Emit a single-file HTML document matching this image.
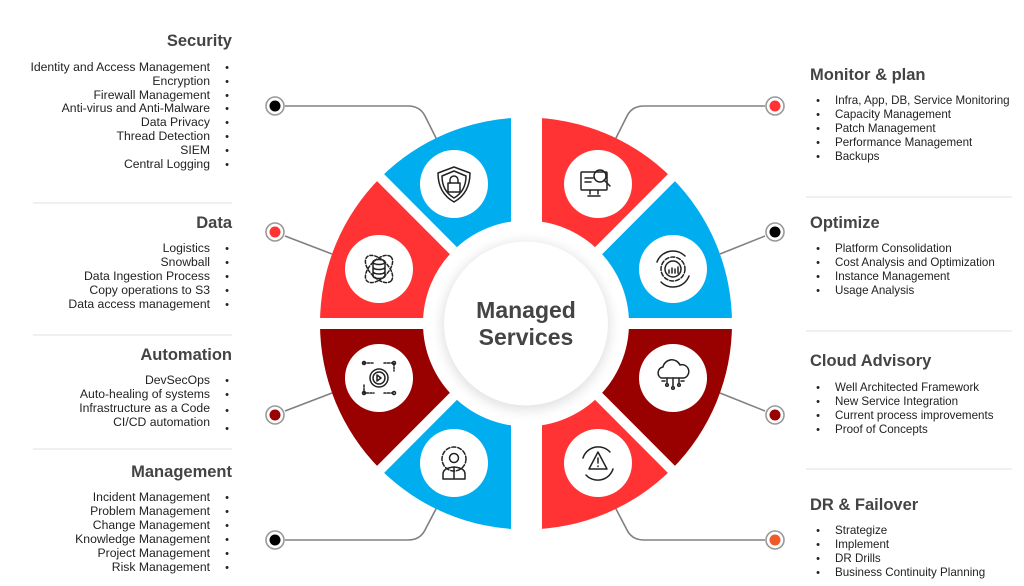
<!DOCTYPE html>
<html><head><meta charset="utf-8"><style>
html,body{margin:0;padding:0;background:#fff;}
svg{display:block;}
.t{font-family:"Liberation Sans",sans-serif;font-weight:bold;font-size:16.5px;fill:#444;}
.i{font-family:"Liberation Sans",sans-serif;font-size:12.2px;fill:#222;}
.r{font-family:"Liberation Sans",sans-serif;font-size:11.6px;fill:#222;}
.b{font-family:"Liberation Sans",sans-serif;font-size:11px;fill:#222;}
.ic{fill:none;stroke:#222;stroke-width:1.5;stroke-linecap:round;stroke-linejoin:round;}
</style></head><body>
<svg width="1024" height="586" viewBox="0 0 1024 586" xmlns="http://www.w3.org/2000/svg">
<defs>
<filter id="sh" x="-30%" y="-30%" width="160%" height="160%"><feGaussianBlur stdDeviation="6"/></filter>
</defs>

<g fill="none" stroke="#808080" stroke-width="1.6">
<path d="M285 106 H408 Q420 106 425 116 L437 140"/>
<path d="M765 106 H644 Q632 106 627 116 L615 140"/>
<path d="M285 236 L332 254"/>
<path d="M765 236 L720 254"/>
<path d="M285 411 L332 393"/>
<path d="M765 411 L720 393"/>
<path d="M285 540 H408 Q420 540 425 530 L437 507"/>
<path d="M765 540 H644 Q632 540 627 530 L615 507"/>
</g>
<g stroke="#999" stroke-width="1.6" fill="#fff">
<circle cx="275" cy="106" r="9"/><circle cx="275" cy="232" r="9"/><circle cx="275" cy="415" r="9"/><circle cx="275" cy="540" r="9"/>
<circle cx="775" cy="106" r="9"/><circle cx="775" cy="232" r="9"/><circle cx="775" cy="415" r="9"/><circle cx="775" cy="540" r="9"/>
</g>
<circle cx="275" cy="106" r="5.5" fill="#000"/><circle cx="275" cy="232" r="5.5" fill="#ff3333"/><circle cx="275" cy="415" r="5.5" fill="#990000"/><circle cx="275" cy="540" r="5.5" fill="#000"/>
<circle cx="775" cy="106" r="5.5" fill="#ff3333"/><circle cx="775" cy="232" r="5.5" fill="#000"/><circle cx="775" cy="415" r="5.5" fill="#990000"/><circle cx="775" cy="540" r="5.5" fill="#f05a28"/>

<path d="M526 117.5 A206 206 0 0 1 671.7 177.8 L598.8 250.7 A103 103 0 0 0 526 220.5 Z" fill="#ff3333"/>
<path d="M671.7 177.8 A206 206 0 0 1 732 323.5 L629 323.5 A103 103 0 0 0 598.8 250.7 Z" fill="#00aeef"/>
<path d="M732 323.5 A206 206 0 0 1 671.7 469.2 L598.8 396.3 A103 103 0 0 0 629 323.5 Z" fill="#990000"/>
<path d="M671.7 469.2 A206 206 0 0 1 526 529.5 L526 426.5 A103 103 0 0 0 598.8 396.3 Z" fill="#ff3333"/>
<path d="M526 529.5 A206 206 0 0 1 380.3 469.2 L453.2 396.3 A103 103 0 0 0 526 426.5 Z" fill="#00aeef"/>
<path d="M380.3 469.2 A206 206 0 0 1 320 323.5 L423 323.5 A103 103 0 0 0 453.2 396.3 Z" fill="#990000"/>
<path d="M320 323.5 A206 206 0 0 1 380.3 177.8 L453.2 250.7 A103 103 0 0 0 423 323.5 Z" fill="#ff3333"/>
<path d="M380.3 177.8 A206 206 0 0 1 526 117.5 L526 220.5 A103 103 0 0 0 453.2 250.7 Z" fill="#00aeef"/>
<rect x="511" y="100" width="31" height="450" fill="#fff"/>
<rect x="300" y="318" width="450" height="11" fill="#fff"/>
<g stroke="#fff" stroke-width="10">
<line x1="360" y1="157" x2="692" y2="490"/>
<line x1="692" y1="157" x2="360" y2="490"/>
</g>

<circle cx="526" cy="326" r="84" fill="#000" opacity="0.12" filter="url(#sh)"/>
<circle cx="526" cy="323.5" r="82" fill="#fff"/>
<text x="526" y="318" text-anchor="middle" font-family="Liberation Sans, sans-serif" font-weight="bold" font-size="23" fill="#444">Managed</text>
<text x="526" y="345" text-anchor="middle" font-family="Liberation Sans, sans-serif" font-weight="bold" font-size="23" fill="#444">Services</text>

<g fill="#fff">
<circle cx="454" cy="184" r="34"/><circle cx="379" cy="269" r="34"/><circle cx="379" cy="378" r="34"/><circle cx="454" cy="463" r="34"/>
<circle cx="598" cy="184" r="34"/><circle cx="673" cy="269" r="34"/><circle cx="673" cy="378" r="34"/><circle cx="598" cy="463" r="34"/>
</g>
<g class="ic">
<path d="M454 167 L470 173 Q470 193 454 202 Q438 193 438 173 Z"/><path d="M454 171 L466 176 Q466 191 454 198 Q442 191 442 176 Z"/>
<rect x="448" y="183" width="12" height="9"/><path d="M450 183 v-3 a4 4 0 0 1 8 0 v3"/>
<ellipse cx="379" cy="262" rx="6" ry="2.5"/><path d="M373 262 v14 a6 2.5 0 0 0 12 0 v-14 M373 267 a6 2.5 0 0 0 12 0 M373 271.5 a6 2.5 0 0 0 12 0"/>
<ellipse cx="379" cy="269" rx="17" ry="9" transform="rotate(45 379 269)" stroke-dasharray="3 2"/>
<ellipse cx="379" cy="269" rx="17" ry="9" transform="rotate(-45 379 269)" stroke-dasharray="3 2"/>
<circle cx="379" cy="378" r="9"/><circle cx="379" cy="378" r="6"/><path d="M377 375 l4 3 l-4 3 Z"/>
<path d="M364 363 h10 M384 363 h10 v8 M364 385 v8 h10 M384 393 h10" stroke-dasharray="2 1.5"/>
<circle cx="364" cy="363" r="1.5"/><circle cx="394" cy="363" r="1.5"/><circle cx="364" cy="393" r="1.5"/><circle cx="394" cy="393" r="1.5"/>
<circle cx="454" cy="459" r="12" stroke-dasharray="4 2"/><circle cx="454" cy="458" r="4.5"/><path d="M443 479 v-5 q0 -6 11 -7 q11 1 11 7 v5 Z M454 467 v12"/>
<rect x="581" y="172" width="26" height="18" rx="1"/><path d="M590 190 v4 M598 190 v4 M588 196 h12 M585 178 h8 M585 182 h6"/>
<circle cx="600" cy="176" r="6"/><path d="M604 180 l6 6"/>
<circle cx="673" cy="269" r="12" stroke-dasharray="4 2"/><circle cx="673" cy="269" r="8"/><path d="M669 273 v-3 M672 273 v-5 M675 273 v-4 M678 273 v-6"/>
<path d="M657 262 a17 17 0 0 1 28 -6 M689 276 a17 17 0 0 1 -28 6"/>
<path d="M661 378 a6 6 0 0 1 2 -11 a9 9 0 0 1 17 -2 a6 6 0 0 1 4 13 Z"/><path d="M667 378 v5 M673 378 v8 M679 378 v5 M662 381 h3 M684 381 h-3"/>
<circle cx="667" cy="385" r="1.3"/><circle cx="673" cy="388" r="1.3"/><circle cx="679" cy="385" r="1.3"/>
<path d="M598 452 L607 469 H589 Z"/><path d="M598 458 v5 M598 466 v0.5"/><path d="M583 458 a16 16 0 0 1 27 -6 M613 469 a16 16 0 0 1 -27 6"/>
</g>

<g stroke="#e2e2e2" stroke-width="1">
<line x1="33" y1="203" x2="232" y2="203"/><line x1="33" y1="335" x2="232" y2="335"/><line x1="33" y1="449" x2="232" y2="449"/>
<line x1="806" y1="197" x2="1012" y2="197"/><line x1="806" y1="331" x2="1012" y2="331"/><line x1="806" y1="469" x2="1012" y2="469"/>
</g>

<g text-anchor="end">
<text class="t" x="232" y="46">Security</text>
<text class="i" x="210" y="71">Identity and Access Management</text>
<text class="i" x="210" y="85">Encryption</text>
<text class="i" x="210" y="99">Firewall Management</text>
<text class="i" x="210" y="112">Anti-virus and Anti-Malware</text>
<text class="i" x="210" y="126">Data Privacy</text>
<text class="i" x="210" y="140">Thread Detection</text>
<text class="i" x="210" y="154">SIEM</text>
<text class="i" x="210" y="168">Central Logging</text>
<text class="t" x="232" y="228">Data</text>
<text class="i" x="210" y="252">Logistics</text>
<text class="i" x="210" y="266">Snowball</text>
<text class="i" x="210" y="280">Data Ingestion Process</text>
<text class="i" x="210" y="294">Copy operations to S3</text>
<text class="i" x="210" y="308">Data access management</text>
<text class="t" x="232" y="360">Automation</text>
<text class="i" x="210" y="384">DevSecOps</text>
<text class="i" x="210" y="398">Auto-healing of systems</text>
<text class="i" x="210" y="412">Infrastructure as a Code</text>
<text class="i" x="210" y="426">CI/CD automation</text>
<text class="t" x="232" y="477">Management</text>
<text class="i" x="210" y="501">Incident Management</text>
<text class="i" x="210" y="515">Problem Management</text>
<text class="i" x="210" y="529">Change Management</text>
<text class="i" x="210" y="543">Knowledge Management</text>
<text class="i" x="210" y="557">Project Management</text>
<text class="i" x="210" y="571">Risk Management</text>
</g>
<g text-anchor="middle">
<text class="b" x="227" y="71">•</text><text class="b" x="227" y="85">•</text><text class="b" x="227" y="99">•</text><text class="b" x="227" y="112">•</text><text class="b" x="227" y="126">•</text><text class="b" x="227" y="140">•</text><text class="b" x="227" y="154">•</text><text class="b" x="227" y="168">•</text>
<text class="b" x="227" y="252">•</text><text class="b" x="227" y="266">•</text><text class="b" x="227" y="280">•</text><text class="b" x="227" y="294">•</text><text class="b" x="227" y="308">•</text>
<text class="b" x="227" y="384">•</text><text class="b" x="227" y="398">•</text><text class="b" x="227" y="414">•</text><text class="b" x="227" y="432">•</text>
<text class="b" x="227" y="501">•</text><text class="b" x="227" y="515">•</text><text class="b" x="227" y="529">•</text><text class="b" x="227" y="543">•</text><text class="b" x="227" y="557">•</text><text class="b" x="227" y="571">•</text>
<text class="b" x="818" y="104">•</text><text class="b" x="818" y="118">•</text><text class="b" x="818" y="132">•</text><text class="b" x="818" y="146">•</text><text class="b" x="818" y="160">•</text>
<text class="b" x="818" y="252">•</text><text class="b" x="818" y="266">•</text><text class="b" x="818" y="280">•</text><text class="b" x="818" y="294">•</text>
<text class="b" x="818" y="391">•</text><text class="b" x="818" y="405">•</text><text class="b" x="818" y="419">•</text><text class="b" x="818" y="433">•</text>
<text class="b" x="818" y="534">•</text><text class="b" x="818" y="548">•</text><text class="b" x="818" y="562">•</text><text class="b" x="818" y="576">•</text>
</g>

<text class="t" x="810" y="80">Monitor &amp; plan</text>
<text class="r" x="835" y="104">Infra, App, DB, Service Monitoring</text>
<text class="r" x="835" y="118">Capacity Management</text>
<text class="r" x="835" y="132">Patch Management</text>
<text class="r" x="835" y="146">Performance Management</text>
<text class="r" x="835" y="160">Backups</text>
<text class="t" x="810" y="228">Optimize</text>
<text class="r" x="835" y="252">Platform Consolidation</text>
<text class="r" x="835" y="266">Cost Analysis and Optimization</text>
<text class="r" x="835" y="280">Instance Management</text>
<text class="r" x="835" y="294">Usage Analysis</text>
<text class="t" x="810" y="366">Cloud Advisory</text>
<text class="r" x="835" y="391">Well Architected Framework</text>
<text class="r" x="835" y="405">New Service Integration</text>
<text class="r" x="835" y="419">Current process improvements</text>
<text class="r" x="835" y="433">Proof of Concepts</text>
<text class="t" x="810" y="510">DR &amp; Failover</text>
<text class="r" x="835" y="534">Strategize</text>
<text class="r" x="835" y="548">Implement</text>
<text class="r" x="835" y="562">DR Drills</text>
<text class="r" x="835" y="576">Business Continuity Planning</text>
</svg>
</body></html>
